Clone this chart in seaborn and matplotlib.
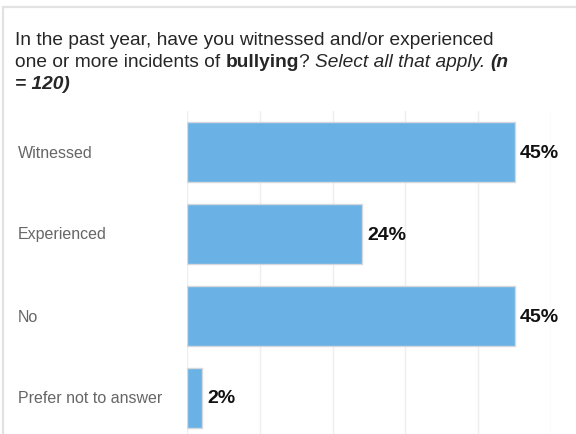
import matplotlib
matplotlib.use("Agg")
import matplotlib.pyplot as plt
import matplotlib.transforms as mtransforms
import seaborn as sns
import pandas as pd
from matplotlib.patches import Rectangle

categories = ["Witnessed", "Experienced", "No", "Prefer not to answer"]
percents = [45, 24, 45, 2]
value_labels = ["45%", "24%", "45%", "2%"]

sns.set_theme(style="white")
plt.rcParams["font.family"] = ["Liberation Sans", "DejaVu Sans"]

W, H = 576, 435
fig = plt.figure(figsize=(W / 100, H / 100), dpi=100)

# panel frame (open at the bottom)
fig.patches.append(Rectangle((3 / W, -0.05), 1.2, (H - 8) / H + 0.05,
                             transform=fig.transFigure, fill=False,
                             edgecolor="#e2e2e2", linewidth=1.6, zorder=0))

ax = fig.add_axes([187 / W, (H - 440) / H, (551 - 187) / W, 328 / H])

df = pd.DataFrame({"category": categories, "percent": percents})
sns.barplot(data=df, x="percent", y="category", orient="h", ax=ax,
            color="#6ab2e6", saturation=1, width=0.74,
            edgecolor="#d4d8dc", linewidth=1.0, zorder=3)

ax.set_xlim(0, 50)
ax.set_xticks(range(0, 51, 10))
ax.xaxis.grid(True, color="#eeeeee", linewidth=1.0, zorder=0)
ax.set_axisbelow(True)
ax.tick_params(axis="x", bottom=False, labelbottom=False)
ax.tick_params(axis="y", left=False, labelleft=False)
ax.set_xlabel("")
ax.set_ylabel("")
for s in ax.spines.values():
    s.set_visible(False)

# category labels at the left edge of the panel
label_tr = mtransforms.blended_transform_factory(fig.transFigure, ax.transData)
for i, cat in enumerate(categories):
    ax.text(18 / W, i, cat, transform=label_tr, fontsize=11.5,
            color="#666666", va="center", ha="left", clip_on=False)

# value labels after each bar
for i, (v, lab) in enumerate(zip(percents, value_labels)):
    ax.annotate(lab, xy=(v, i), xytext=(4, 0), textcoords="offset points",
                fontsize=14, fontweight="bold", color="#111111",
                va="center", ha="left", annotation_clip=False)

# question text with mixed font styles
fs = 13.75
tc = "#262626"
x0 = 15 / W
lines = [
    [("In the past year, have you witnessed and/or experienced", "normal", "normal")],
    [("one or more incidents of ", "normal", "normal"),
     ("bullying", "bold", "normal"),
     ("? ", "normal", "normal"),
     ("Select all that apply. ", "normal", "italic"),
     ("(n", "bold", "italic")],
    [("= 120)", "bold", "italic")],
]
baselines = [45, 67, 89]
renderer = fig.canvas.get_renderer()
for line, yb in zip(lines, baselines):
    x = x0
    for txt, wt, st in line:
        t = fig.text(x, 1 - yb / H, txt, fontsize=fs, color=tc, fontweight=wt,
                     fontstyle=st, va="baseline", ha="left")
        bb = t.get_window_extent(renderer=renderer)
        x = bb.x1 / W

fig.savefig("out.png", dpi=100)
